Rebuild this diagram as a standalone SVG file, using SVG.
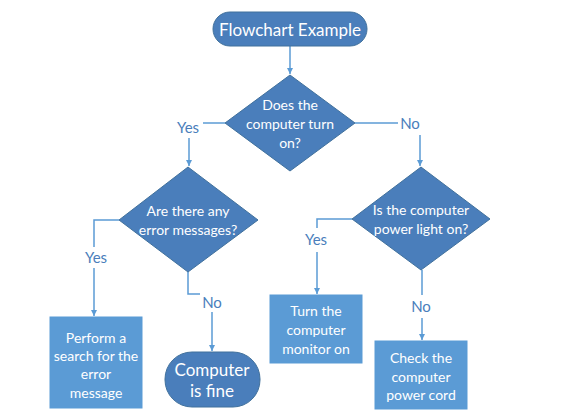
<svg xmlns="http://www.w3.org/2000/svg" width="570" height="420" viewBox="0 0 570 420">
<defs>
<style>
.dk{fill:#4a7ebb;stroke:#41719c;stroke-width:1}
.lt{fill:#5b9bd5;stroke:#5b9bd5;stroke-width:1}
.t{font-family:Lato,"Liberation Sans",sans-serif;fill:#ffffff;text-anchor:middle;dominant-baseline:central}
.lb{font-family:Lato,"Liberation Sans",sans-serif;fill:#4a7ebb;text-anchor:middle;dominant-baseline:central;font-size:15px}
.c{fill:none;stroke:#5b9bd5;stroke-width:1.5}
</style>
<marker id="ah" viewBox="0 0 10 10" refX="10" refY="5" markerWidth="6" markerHeight="6" markerUnits="userSpaceOnUse" orient="auto">
<path d="M0,0 L10,5 L0,10 z" fill="#5b9bd5"/>
</marker>
</defs>
<rect width="570" height="420" fill="#ffffff"/>
<g id="connectors">
<path class="c" d="M290,46 V74" marker-end="url(#ah)"/>
<path class="c" d="M225,123 H203"/>
<path class="c" d="M189,138 V166" marker-end="url(#ah)"/>
<path class="c" d="M355,123 H398"/>
<path class="c" d="M420,135 V166" marker-end="url(#ah)"/>
<path class="c" d="M119,220 H94 V247"/>
<path class="c" d="M94,268 V316" marker-end="url(#ah)"/>
<path class="c" d="M188,272 V294 H200"/>
<path class="c" d="M212,312 V351" marker-end="url(#ah)"/>
<path class="c" d="M352,219 H317 V228"/>
<path class="c" d="M317,252 V294" marker-end="url(#ah)"/>
<path class="c" d="M422,270 V295"/>
<path class="c" d="M422,318 V340" marker-end="url(#ah)"/>
</g>
<g id="labels">
<text class="lb" x="188" y="127">Yes</text>
<text class="lb" x="410" y="123">No</text>
<text class="lb" x="96" y="257">Yes</text>
<text class="lb" x="212" y="302">No</text>
<text class="lb" x="316" y="239">Yes</text>
<text class="lb" x="421" y="306">No</text>
</g>
<g id="start">
<rect class="dk" x="213" y="12" width="154" height="34" rx="17"/>
<text class="t" x="290" y="29" font-size="17">Flowchart Example</text>
</g>
<g id="q1">
<polygon class="dk" points="290,75 355,123 290,171 225,123"/>
<text class="t" font-size="14"><tspan x="290" y="104">Does the</tspan><tspan x="290" y="123">computer turn</tspan><tspan x="290" y="142">on?</tspan></text>
</g>
<g id="q2">
<polygon class="dk" points="188,167 258,220 188,272 119,220"/>
<text class="t" font-size="14"><tspan x="188" y="210">Are there any</tspan><tspan x="188" y="229">error messages?</tspan></text>
</g>
<g id="q3">
<polygon class="dk" points="421,167 490,219 421,270 352,219"/>
<text class="t" font-size="14"><tspan x="421" y="209">Is the computer</tspan><tspan x="421" y="228">power light on?</tspan></text>
</g>
<g id="search">
<rect class="lt" x="50" y="317" width="92" height="91"/>
<text class="t" font-size="14"><tspan x="96" y="337">Perform a</tspan><tspan x="96" y="355">search for the</tspan><tspan x="96" y="373">error</tspan><tspan x="96" y="392">message</tspan></text>
</g>
<g id="fine">
<rect class="dk" x="165" y="352" width="95" height="55" rx="27"/>
<text class="t" font-size="17"><tspan x="212" y="369">Computer</tspan><tspan x="212" y="390">is fine</tspan></text>
</g>
<g id="monitor">
<rect class="lt" x="270" y="295" width="92" height="68"/>
<text class="t" font-size="14"><tspan x="316" y="310">Turn the</tspan><tspan x="316" y="329">computer</tspan><tspan x="316" y="348">monitor on</tspan></text>
</g>
<g id="cord">
<rect class="lt" x="375" y="341" width="92" height="68"/>
<text class="t" font-size="14"><tspan x="421" y="357">Check the</tspan><tspan x="421" y="376">computer</tspan><tspan x="421" y="394">power cord</tspan></text>
</g>
</svg>
